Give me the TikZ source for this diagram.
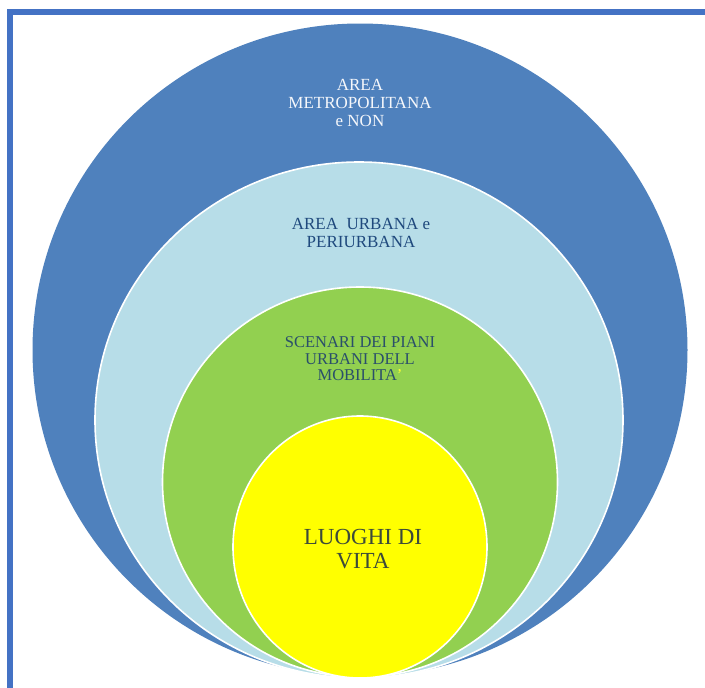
\documentclass[tikz,border=0pt]{standalone}
\usepackage{fontspec}
\setmainfont{Liberation Serif}
\definecolor{frameblue}{HTML}{4472C4}
\definecolor{ringblue}{HTML}{4F81BD}
\definecolor{ringlight}{HTML}{B7DDE8}
\definecolor{ringgreen}{HTML}{92D050}
\definecolor{ringyellow}{HTML}{FFFF00}
\definecolor{txtdark}{HTML}{1F497D}
\definecolor{txtgreen}{HTML}{2A4F6A}
\definecolor{txtcore}{HTML}{3C4A3A}
\tikzset{
  ring/.style={draw=white, line width=1.6pt},
  lbl/.style={align=center, inner sep=0pt, font=\fontsize{17}{18}\selectfont},
}
\begin{document}
\begin{tikzpicture}[x=1pt,y=-1pt]
\useasboundingbox (0,0) rectangle (705,688);
\clip (0,0) rectangle (705,688);
\fill[white] (0,0) rectangle (705,688);
\draw[frameblue, line width=6pt] (10,700) -- (10,12) -- (720,12);
\fill[ringblue] (360,350) ellipse [x radius=327.5, y radius=326.5];
\draw[ring, fill=ringlight] (359,420) ellipse [x radius=264, y radius=258];
\draw[ring, fill=ringgreen] (360,482) ellipse [x radius=197.5, y radius=195];
\draw[ring, fill=ringyellow] (360,547) ellipse [x radius=127, y radius=131];
\node[lbl, text=white!94!ringblue] (metro) at (360,103) {AREA\\METROPOLITANA\\e NON};
\node[lbl, text=txtdark] (urbana) at (361,233) {AREA\ \ URBANA e\\PERIURBANA};
\node[lbl, text=txtgreen, font=\fontsize{16.5}{16.5}\selectfont] (scenari) at (360,359) {SCENARI DEI PIANI\\URBANI DELL\\MOBILITA\textcolor{ringyellow!80!white}{’}};
\node[lbl, text=txtcore, font=\fontsize{23}{23.5}\selectfont] (luoghi) at (363,549) {LUOGHI DI\\VITA};
\end{tikzpicture}
\end{document}
